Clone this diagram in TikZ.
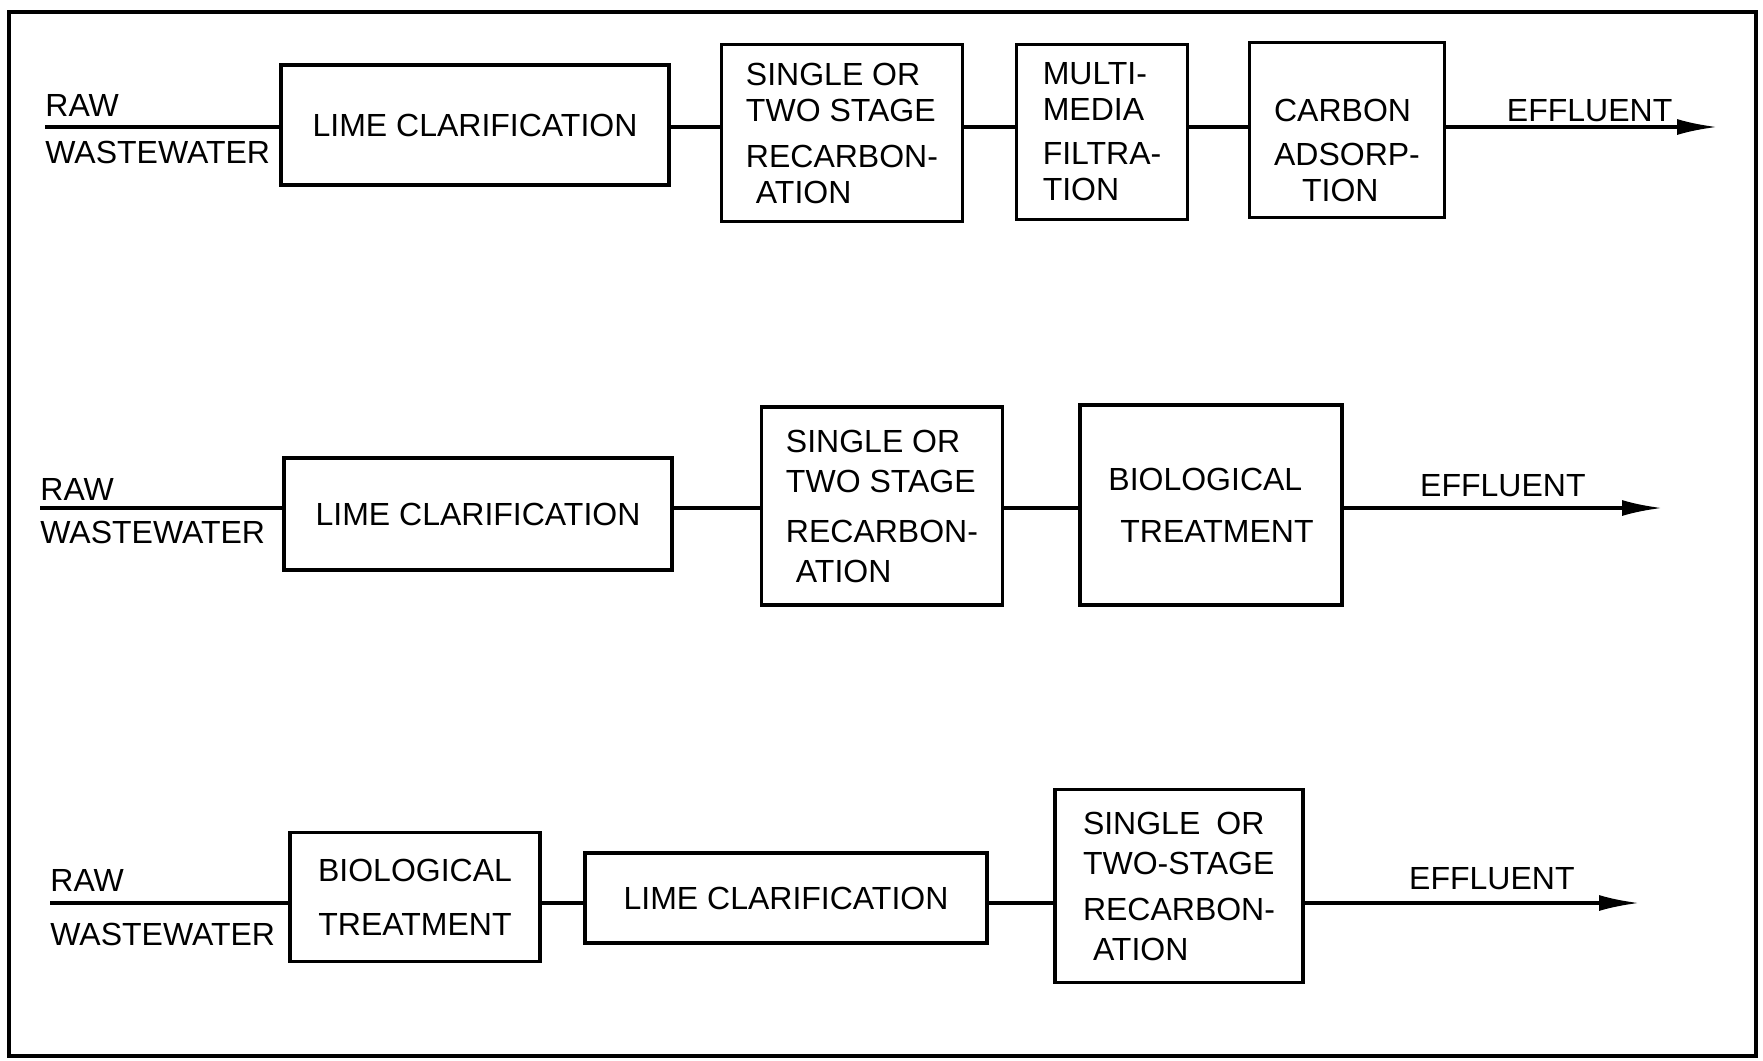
\documentclass[tikz,border=0pt]{standalone}
\usepackage{fontspec}
\setmainfont{Liberation Sans}
\usepackage{tikz}
\usetikzlibrary{
    arrows.meta,
    positioning
}

\begin{document}
\begin{tikzpicture}[
    x=0.5pt, y=-0.5pt,
    font=\fontsize{16}{20}\selectfont,
    stage/.style={draw, line width=1.8pt, align=left, inner sep=0pt},
    tight/.style={font=\fontsize{16}{18}\selectfont},
    pipe/.style={line width=1.6pt},
    outpipe/.style={pipe, -{Latex[length=20pt,width=8pt]}},
    flowlbl/.style={inner sep=0pt}
]
    \useasboundingbox (0,0) rectangle (1763,1061);
    \draw[line width=1.6pt] (9,12) rectangle (1756,1056);

    % first train: lime, recarbonation, filtration, carbon
    \coordinate (in1) at (45,127);
    \coordinate (out1) at (1717,127);
    \node[stage, minimum width=194pt, minimum height=60pt] (lime1) at (475,125) {LIME CLARIFICATION};
    \node[stage, tight, minimum width=120.5pt, minimum height=88.5pt] (sing1) at (842,133)
        {SINGLE OR\\TWO STAGE\\[5pt]RECARBON-\\\hspace*{5pt}ATION};
    \node[stage, tight, minimum width=85.5pt, minimum height=87.5pt] (multi1) at (1102,132)
        {MULTI-\\MEDIA\\[4pt]FILTRA-\\TION};
    \node[stage, tight, minimum width=97.5pt, minimum height=87.5pt, text height=72pt] (carb1) at (1347,130)
        {CARBON\\[4pt]ADSORP-\\\hspace*{14pt}TION};

    \node[flowlbl, above right=5pt and 0pt of in1] (raw1) {RAW};
    \node[flowlbl, below right=7pt and 0pt of in1] (ww1) {WASTEWATER};
    \draw[pipe] (in1) -- (in1 -| lime1.west);
    \draw[pipe] (lime1.east |- in1) -- (sing1.west |- in1);
    \draw[pipe] (sing1.east |- in1) -- (multi1.west |- in1);
    \draw[pipe] (multi1.east |- in1) -- (carb1.west |- in1);
    \draw[outpipe] (carb1.east |- in1) -- (out1)
        node[flowlbl, midway, above=2pt, xshift=4pt] (eff1) {EFFLUENT};

    % second train: lime, recarbonation, biological
    \coordinate (in2) at (40,508);
    \coordinate (out2) at (1662,508);
    \node[stage, minimum width=194pt, minimum height=56pt] (lime2) at (478,514) {LIME CLARIFICATION};
    \node[stage, minimum width=120.5pt, minimum height=99pt] (sing2) at (882,506)
        {SINGLE OR\\TWO STAGE\\[5pt]RECARBON-\\\hspace*{5pt}ATION};
    \node[stage, minimum width=131pt, minimum height=100pt] (bio2) at (1211,505)
        {BIOLOGICAL\\[6pt]\hspace*{6pt}TREATMENT};

    \node[flowlbl, above right=3.5pt and 0pt of in2] (raw2) {RAW};
    \node[flowlbl, below right=6.5pt and 0pt of in2] (ww2) {WASTEWATER};
    \draw[pipe] (in2) -- (in2 -| lime2.west);
    \draw[pipe] (lime2.east |- in2) -- (sing2.west |- in2);
    \draw[pipe] (sing2.east |- in2) -- (bio2.west |- in2);
    \draw[outpipe] (bio2.east |- in2) -- (out2)
        node[flowlbl, midway, above=5pt] (eff2) {EFFLUENT};

    % third train: biological, lime, recarbonation
    \coordinate (in3) at (50,903);
    \coordinate (out3) at (1639,903);
    \node[stage, align=center, minimum width=125pt, minimum height=64.5pt] (bio3) at (415,897)
        {BIOLOGICAL\\[7pt]TREATMENT};
    \node[stage, minimum width=201pt, minimum height=45pt] (lime3) at (786,898) {LIME CLARIFICATION};
    \node[stage, minimum width=124pt, minimum height=96.5pt] (sing3) at (1179,886)
        {SINGLE\enspace OR\\TWO-STAGE\\[3pt]RECARBON-\\\hspace*{5pt}ATION};

    \node[flowlbl, above right=5.5pt and 0pt of in3] (raw3) {RAW};
    \node[flowlbl, below right=10pt and 0pt of in3] (ww3) {WASTEWATER};
    \draw[pipe] (in3) -- (in3 -| bio3.west);
    \draw[pipe] (bio3.east |- in3) -- (lime3.west |- in3);
    \draw[pipe] (lime3.east |- in3) -- (sing3.west |- in3);
    \draw[outpipe] (sing3.east |- in3) -- (out3)
        node[flowlbl, midway, above=6pt, xshift=10pt] (eff3) {EFFLUENT};
\end{tikzpicture}
\end{document}
